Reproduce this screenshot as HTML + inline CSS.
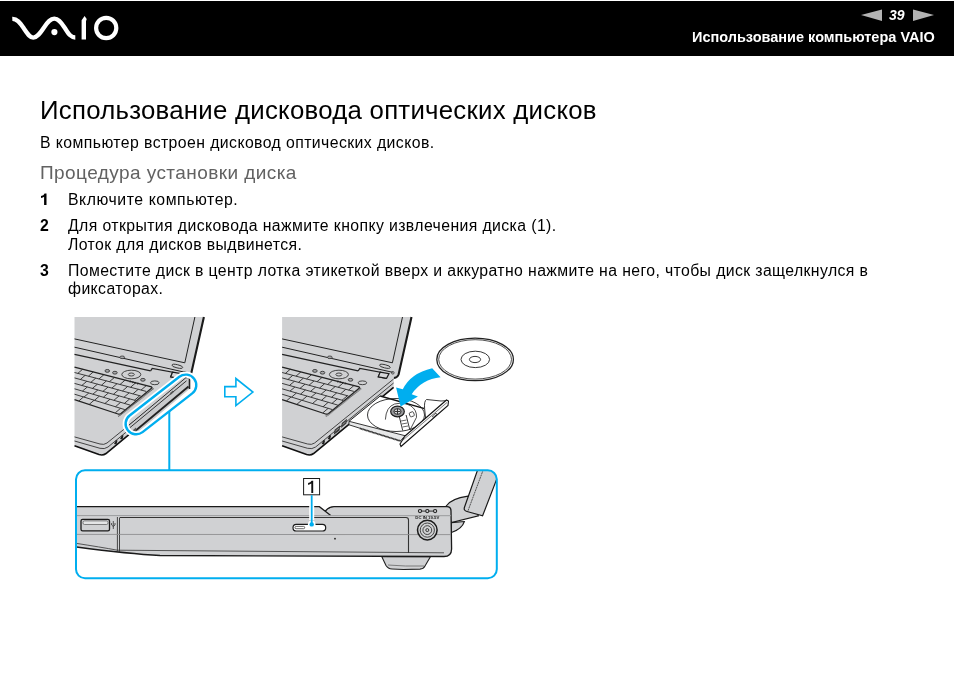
<!DOCTYPE html>
<html><head><meta charset="utf-8">
<style>
html,body{margin:0;padding:0;background:#fff;}
body{width:954px;height:674px;position:relative;overflow:hidden;font-family:"Liberation Sans",sans-serif;color:#000;}
.hdr{position:absolute;left:0;top:1px;width:954px;height:55px;background:#000;}
.t{position:absolute;white-space:nowrap;line-height:1;will-change:transform;}
#title{left:40px;top:97.8px;font-size:25.8px;letter-spacing:0.25px;}
#intro{left:40px;top:135.4px;font-size:15.8px;letter-spacing:0.42px;}
#sub{left:40px;top:162.6px;font-size:19px;letter-spacing:0.43px;color:#626262;}
.num{font-weight:bold;}
#hsub{left:692.3px;top:30.1px;font-size:14.5px;font-weight:bold;color:#fff;}
#pnum{left:889px;top:8px;font-size:14px;font-weight:bold;font-style:italic;color:#fff;}
</style></head>
<body>
<div class="hdr"></div>
<svg id="hdrsvg" style="position:absolute;left:0;top:0" width="954" height="60" viewBox="0 0 954 60">
<path d="M12.3,18.9 C17,18.7 19.8,22.3 23.8,28.3 C27.8,34.3 29.8,37.6 33.3,37.6 C37,37.6 40,33.5 44,27.5 C48,21.5 50.5,18.7 54.3,18.7 C58,18.7 60.5,21.5 64.5,27.5 C68.5,33.5 70.5,37.5 75.3,37.5" fill="none" stroke="#fff" stroke-width="4.3" stroke-linecap="butt"/>
<circle cx="54.4" cy="32.1" r="3.1" fill="#fff"/>
<path d="M81.6,39.6 L81.6,20.3 L84.6,16 L86.7,19 L86,21.3 L86,39.6 Z" fill="#fff"/>
<ellipse cx="106.2" cy="28" rx="10.1" ry="10.1" fill="none" stroke="#fff" stroke-width="4.2"/>
<polygon points="861,15.1 882,9.4 882,20.9" fill="#b3b3b3"/>
<polygon points="934,15.1 913,9.4 913,20.9" fill="#b3b3b3"/>
</svg>
<div class="t" id="hsub">Использование компьютера VAIO</div>
<div class="t" id="pnum">39</div>
<div class="t" id="title">Использование дисковода оптических дисков</div>
<div class="t" id="intro">В компьютер встроен дисковод оптических дисков.</div>
<div class="t" id="sub">Процедура установки диска</div>
<svg style="position:absolute;left:0;top:0" width="60" height="220" viewBox="0 0 60 220"><path d="M44.1,204.9 L46.5,204.9 L46.5,193.6 L44.6,193.6 Q43.9,195.7 41,196.1 L41,198 Q43.1,197.8 44.1,196.8 Z" fill="#000"/></svg>
<div class="t" id="l1" style="left:67.6px;top:192.2px;font-size:15.8px;letter-spacing:0.56px;">Включите компьютер.</div>
<div class="t num" id="n2" style="left:40px;top:218.1px;font-size:15.8px;">2</div>
<div class="t" id="l2a" style="left:67.6px;top:218.1px;font-size:15.8px;letter-spacing:0.4px;">Для открытия дисковода нажмите кнопку извлечения диска (1).</div>
<div class="t" id="l2b" style="left:67.6px;top:236.7px;font-size:15.8px;letter-spacing:0.4px;">Лоток для дисков выдвинется.</div>
<div class="t num" id="n3" style="left:40px;top:263.4px;font-size:15.8px;">3</div>
<div class="t" id="l3a" style="left:67.6px;top:263.4px;font-size:15.8px;letter-spacing:0.385px;">Поместите диск в центр лотка этикеткой вверх и аккуратно нажмите на него, чтобы диск защелкнулся в</div>
<div class="t" id="l3b" style="left:67.6px;top:281.2px;font-size:15.8px;letter-spacing:0.4px;">фиксаторах.</div>
<svg id="ill" style="position:absolute;left:0;top:0" width="954" height="674" viewBox="0 0 954 674">
<defs>
<clipPath id="frameclip"><rect x="76" y="470.3" width="420.8" height="108" rx="9" ry="9"/></clipPath>
<g id="lapbase">
  <path d="M74.5,317 L203.9,317 L191,375.5 L186.2,379 L186,387.4 L106,453.5 Q103,455.8 99,454.6 L74.5,445.8 Z" fill="#d0d1d3"/>
  <path d="M203.9,317 L191,374.5 Q190,377.5 186.4,378" fill="none" stroke="#1a1a1a" stroke-width="2.1"/>
  <path d="M194.9,317 L184.8,362.8 L74.5,338.9" fill="none" stroke="#222" stroke-width="1"/>
  <path d="M74.5,347.2 L185,372.3" fill="none" stroke="#222" stroke-width="1"/>
  <path d="M150.6,370.9 L152.2,368.5 L172.6,372.1 L170.7,376.8 L178.5,378.3" fill="none" stroke="#222" stroke-width="1.2"/>
  <path d="M172.6,372.1 L181.4,373.6 L179,378.3 L170.7,376.8 Z" fill="#d6d7d9" stroke="#1a1a1a" stroke-width="1.2"/>
  <circle cx="185.2" cy="372.8" r="1.3" fill="none" stroke="#333" stroke-width="0.8"/>
  <ellipse cx="177.3" cy="366.3" rx="5.5" ry="1.6" transform="rotate(13 177.3 366.3)" fill="none" stroke="#333" stroke-width="0.9"/>
  <ellipse cx="122.2" cy="357.3" rx="2.4" ry="1.3" fill="#a8a9ab" stroke="#333" stroke-width="0.8"/>
  <path d="M74.5,354.3 L150.6,370.9" fill="none" stroke="#222" stroke-width="1.3"/>
  
  <ellipse cx="107.3" cy="370.9" rx="2.3" ry="1.4" fill="#a8a9ab" stroke="#333" stroke-width="0.9"/>
  <ellipse cx="114.9" cy="372.7" rx="2.3" ry="1.4" fill="#a8a9ab" stroke="#333" stroke-width="0.9"/>
  <ellipse cx="131.3" cy="374.5" rx="9.5" ry="4.3" fill="none" stroke="#333" stroke-width="0.9"/>
  <ellipse cx="131.3" cy="374.5" rx="3" ry="1.5" fill="none" stroke="#333" stroke-width="0.9"/>
  <ellipse cx="142.9" cy="379.8" rx="2.3" ry="1.4" fill="#a8a9ab" stroke="#333" stroke-width="0.9"/>
  <ellipse cx="154.8" cy="382.8" rx="4.3" ry="1.9" fill="none" stroke="#333" stroke-width="0.9"/>
  <path d="M130.5,380.5 l-0.5,2 M133,381.2 l-0.5,2 M135.5,381.9 l-0.5,2 M138,382.6 l-0.5,2" stroke="#333" stroke-width="0.8"/>
  <path d="M74.5,367.1 L151.5,386.9 Q152.5,387.5 151.5,388.3 L121,413.5 Q119.5,414.5 118,414 L74.5,399.6" fill="none" stroke="#222" stroke-width="1.2"/>
  <path d="M74.5,372.5 L146.2,391.4 M74.5,377.9 L140.8,396.0 M74.5,383.4 L135.5,400.5 M74.5,388.8 L130.2,405.1 M74.5,394.2 L124.8,409.6 M146.3,385.6 L141.0,390.1 M135.7,382.8 L130.5,387.3 M125.1,380.1 L120.0,384.5 M114.5,377.4 L109.4,381.7 M103.9,374.7 L98.9,379.0 M93.3,371.9 L88.4,376.2 M82.7,369.2 L77.8,373.4 M138.2,389.3 L132.9,393.9 M127.6,386.5 L122.4,391.0 M117.0,383.7 L111.9,388.1 M106.4,380.9 L101.4,385.3 M95.8,378.1 L90.8,382.4 M85.2,375.3 L80.3,379.5 M139.8,395.7 L134.4,400.3 M129.2,392.8 L123.9,397.3 M118.6,389.9 L113.4,394.3 M108.0,387.1 L102.9,391.4 M97.4,384.2 L92.4,388.4 M86.8,381.3 L81.9,385.4 M129.7,398.9 L124.4,403.4 M119.1,395.9 L113.9,400.3 M108.5,392.9 L103.4,397.2 M97.9,389.9 L92.9,394.2 M87.3,387.0 L82.4,391.1 M120.6,402.3 L115.4,406.8 M110.0,399.2 L104.9,403.5 M99.4,396.1 L94.5,400.3 M88.8,393.0 L84.0,397.1 M120.6,408.3 L115.3,412.8 M94.1,400.2 L89.2,404.4 M83.5,396.9 L78.8,401.0" fill="none" stroke="#2a2a2a" stroke-width="0.9"/>
  <path d="M153.4,388.4 L118,416.7" fill="none" stroke="#444" stroke-width="1.6" stroke-dasharray="0.6 0.6"/>
  <path d="M74.5,436.9 L100,444 Q104,445.2 107,443 L186,379" fill="none" stroke="#333" stroke-width="0.9"/>
  <path d="M74.5,441 L100,448.3 Q104.5,449.5 108,447 L186,383" fill="none" stroke="#333" stroke-width="0.9"/>
  <path d="M74.5,445.8 L99,454.6 Q103,455.8 106,453.5 L186,387.4" fill="none" stroke="#111" stroke-width="1.6"/>
  <path d="M114,444 l2,-4 l1.5,0.5 l-1,4 z M120,439 l2,-4 l1.5,0.5 l-1,4 z" fill="#222"/>
</g>
</defs>
<use href="#lapbase"/>
<use href="#lapbase" transform="translate(207.6 0)"/>

<!-- laptop 1 drive and pill -->
<g>
  <path d="M128.5,425.5 L185.5,378 L189,377.5 L189.5,389 L133,436.5 L129,434 Z" fill="#c9cacc"/>
  <path d="M128.5,425.5 L185.5,378 M129.5,428 L186.5,380.8" fill="none" stroke="#222" stroke-width="0.9"/>
  <path d="M131,434.5 L188.5,386.5" fill="none" stroke="#222" stroke-width="1.8"/>
  <path d="M185,377.5 L189.5,377.5 L189.5,389" fill="none" stroke="#222" stroke-width="1.6"/>
  <path d="M133,430 L136,427.5 L137,433 L134,435.5 Z M170,393 l3,-2.5 l0.5,2 l-3,2.5z" fill="#555"/>
  <rect x="118.95" y="393.95" width="84" height="21" rx="10.5" ry="10.5" transform="rotate(-37.9 160.95 404.45)" fill="none" stroke="#fff" stroke-width="6"/>
  <rect x="118.95" y="393.95" width="84" height="21" rx="10.5" ry="10.5" transform="rotate(-37.9 160.95 404.45)" fill="none" stroke="#00aeef" stroke-width="2.4"/>
  <path d="M169.3,411 L169.3,470" stroke="#00aeef" stroke-width="2"/>
</g>
<!-- hollow arrow -->
<path d="M224.8,386.6 L235.9,386.6 L235.9,378.5 L252.9,392 L235.9,405.6 L235.9,396.8 L224.8,396.8 Z" fill="none" stroke="#00aeef" stroke-width="1.6"/>

<!-- laptop 2 tray -->
<g>
  <path d="M333.8,434.8 L334.6,429.8 L340.2,425.2 L339.6,430.6 Z M341,428 L341.8,423 L347,418.8 L346.4,423.6 Z" fill="#3a3a3a"/>
  <path d="M335.5,431 L338.8,428.3 M342.6,424.5 L345.6,422" stroke="#bbb" stroke-width="0.7"/>
  <path d="M380.2,396 L424.6,408.6 L447.7,400.6 L447.7,405.2 L400.4,446.1 L349,424.8 L349,421.3 Z" fill="#fff"/>
  <path d="M349,421.3 L405,435.7 L400.4,441 L349,424.8 Z" fill="#e6e7e8" stroke="#222" stroke-width="0.9"/>
  <path d="M360,428.5 L400.5,441" fill="none" stroke="#333" stroke-width="2" stroke-dasharray="0.7 0.7"/>
  <path d="M380.2,396 L424.6,408.6" fill="none" stroke="#111" stroke-width="1.3"/>
  <path d="M349,421.3 L380.2,396" fill="none" stroke="#222" stroke-width="1"/>
  <ellipse cx="396" cy="415" rx="28.5" ry="16.5" fill="none" stroke="#222" stroke-width="0.9"/>
  <path d="M385.4,419.6 Q386,407 394.6,404 Q404,402 410.7,405.8 Q417,410 416.5,417.3 L410,430" fill="none" stroke="#222" stroke-width="0.8"/>
  <path d="M399.2,416.1 L402.7,430.5 M406.1,415 L409.6,429" fill="none" stroke="#222" stroke-width="0.9"/>
  <path d="M401,421 l5.5,-1 M401.8,424 l5.5,-1 M402.5,427 l5.5,-1" stroke="#444" stroke-width="0.8"/>
  <rect x="409.6" y="412.1" width="4.4" height="4.4" rx="1" transform="rotate(-20 411.8 414.3)" fill="none" stroke="#333" stroke-width="0.8"/>
  <ellipse cx="397.5" cy="411.5" rx="6.8" ry="5.4" fill="#9a9b9d" stroke="#1a1a1a" stroke-width="1.2"/>
  <ellipse cx="397.5" cy="411.5" rx="3.6" ry="2.8" fill="#d8d9db" stroke="#222" stroke-width="0.9"/>
  <path d="M397.5,408.5 L397.5,414.5 M394.5,411.5 L400.5,411.5" stroke="#333" stroke-width="1"/>
  <path d="M424.6,408.6 Q424,401 426.5,399.5 L441,401 L447.7,400.6 L426,422 Z" fill="#fff" stroke="#222" stroke-width="0.9"/>
  <path d="M405,436 L446.5,400 L448.5,401 L448,405.5 L401,446.5 L400,444 Z" fill="#fafafa" stroke="#111" stroke-width="1.1"/>
  <path d="M432.5,416 l3.5,-3 l0.6,1.5 l-3.5,3 z" fill="none" stroke="#333" stroke-width="0.8"/>
  <path d="M403,440 L447,402.5" stroke="#444" stroke-width="0.7"/>
</g>

<!-- disc -->
<g fill="none" stroke="#222">
<ellipse cx="475.1" cy="359.4" rx="38.3" ry="21.3" stroke-width="1.3"/>
<ellipse cx="475.1" cy="359.4" rx="36.4" ry="19.7" stroke-width="0.8"/>
<ellipse cx="475.3" cy="359.4" rx="14.3" ry="8.2" stroke-width="0.9"/>
<ellipse cx="475" cy="359.5" rx="5.6" ry="3.1" stroke-width="0.9"/>
</g>
<!-- curved arrow -->
<path d="M432.2,368.2 Q410.5,373.25 402.8,389.3 L396.1,387.5 L400.6,406.6 L417.9,396.4 L411.7,394.2 Q421.85,379.25 440.6,377.3 Z" fill="#00aeef"/>

<!-- detail frame -->
<g>
  <g clip-path="url(#frameclip)">
  <path d="M446.2,506 Q451,498.5 468,496.1 L478.4,515.8 L451.4,522.6 Z" fill="#d0d1d3" stroke="#1a1a1a" stroke-width="1.1"/>
  <path d="M451.4,522.6 L464.4,521.5 Q462,529 451.4,532.5 Z" fill="#d0d1d3" stroke="#1a1a1a" stroke-width="1.1"/>
  <path d="M481.1,460 L504.1,460 L482.6,515.8 L467,511.5 Q463.5,510.5 464.4,507.5 Z" fill="#d0d1d3" stroke="#1a1a1a" stroke-width="1.2"/>
  <path d="M486.9,460 L468,510.7" fill="none" stroke="#333" stroke-width="0.8" stroke-dasharray="2 0.6"/>
  </g>
  <path d="M76.5,506.7 L319.4,506.7 L325.4,511 Q329,506.7 334,506.7 L447,506.6 Q451,506.6 451,511 L451.6,549 Q451.5,556.5 444,556.5 L160,555.5 Q130,554 76.5,547 Z" fill="#d0d1d3"/>
  <path d="M381.7,556.5 L386,565.5 Q388,568.8 392,569 L403.5,569.5 L420,569.1 Q423.5,568.9 425,566 L430.4,556.7 Z" fill="#d0d1d3" stroke="#222" stroke-width="1.1"/>
  <path d="M388,565 Q405,566.5 424,566" fill="none" stroke="#666" stroke-width="0.8"/>
  <path d="M76.5,506.7 L319.4,506.7 L330.7,515.4 M325.4,511 Q329,506.7 334,506.7 L447,506.6 Q451,506.6 451,511 L451.6,549 Q451.5,556.5 444,556.5 L160,555.5 Q130,554 76.5,547" fill="none" stroke="#1a1a1a" stroke-width="1.3"/>
  <path d="M76.5,515.6 L451,515.7" stroke="#9a9b9d" stroke-width="1"/>
  <path d="M120,517.5 L406,517.5 Q408.5,517.5 408.5,520 L408.5,553" fill="none" stroke="#333" stroke-width="1.1"/>
  <path d="M117.4,517 L117.4,551 M119.5,517.5 L119.5,552.5" stroke="#333" stroke-width="0.9"/>
  <path d="M76.5,534.4 L451,534.6" stroke="#8e8f91" stroke-width="0.9"/>
  <path d="M76.5,543.4 Q100,547 117.4,550.2 L444,552.8" fill="none" stroke="#333" stroke-width="0.8"/>
  <rect x="81" y="519.4" width="28.5" height="11.4" rx="1.6" fill="#d0d1d3" stroke="#1a1a1a" stroke-width="1.3"/>
  <rect x="83" y="520.9" width="25" height="3.6" rx="1.5" fill="#e4e5e6" stroke="#555" stroke-width="0.7"/>
  <path d="M113.3,521 L113.3,529 M111.6,523 L111.6,525 L113.3,526.5 L115,525 L115,523" fill="none" stroke="#333" stroke-width="0.8"/>
  <rect x="293" y="524.4" width="32.7" height="6.6" rx="3.3" fill="#fff" stroke="#1a1a1a" stroke-width="1.2"/>
  <rect x="295" y="526.4" width="9.7" height="2.3" rx="1.1" fill="none" stroke="#444" stroke-width="0.8"/>
  <circle cx="335" cy="538.7" r="0.9" fill="#222"/>
  <circle cx="427.3" cy="530.1" r="9.8" fill="#d0d1d3" stroke="#1a1a1a" stroke-width="1.5"/>
  <circle cx="427.3" cy="530.1" r="7.1" fill="none" stroke="#333" stroke-width="0.9"/>
  <circle cx="427.3" cy="530.1" r="4.4" fill="none" stroke="#333" stroke-width="0.9"/>
  <circle cx="427.3" cy="530.1" r="1.5" fill="none" stroke="#333" stroke-width="1"/>
  <g fill="#d0d1d3" stroke="#222" stroke-width="1.1"><circle cx="420" cy="511.1" r="1.6"/><circle cx="427.3" cy="511.1" r="1.6"/><circle cx="435.1" cy="511.1" r="1.6"/></g>
  <path d="M421.6,511.1 L425.7,511.1 M428.9,511.1 L433.5,511.1" stroke="#222" stroke-width="0.9"/>
  <text x="427.3" y="518.9" font-family="Liberation Sans" font-size="4.4" font-weight="bold" text-anchor="middle" fill="#1a1a1a" textLength="24" lengthAdjust="spacingAndGlyphs">DC IN 19.5V</text>
  <rect x="303.6" y="478.5" width="16" height="16.3" fill="#fff" stroke="#1a1a1a" stroke-width="1"/>
  <path d="M311.3,492.9 L311.3,483.6 Q310,484.6 308.1,485 L308.1,483.1 Q310.6,482.4 311.6,480.8 L313.2,480.8 L313.2,492.9 Z" fill="#111"/>
  <path d="M311.7,506 L311.7,520" stroke="#fff" stroke-width="5"/>
  <circle cx="311.7" cy="524.4" r="3.8" fill="#fff"/>
  <path d="M311.7,495.2 L311.7,524" stroke="#00aeef" stroke-width="1.8"/>
  <circle cx="311.7" cy="524.4" r="2.2" fill="#00aeef"/>
</g>
<rect x="76" y="470.3" width="420.8" height="108" rx="9" ry="9" fill="none" stroke="#00aeef" stroke-width="2"/>
</svg>
</body></html>
